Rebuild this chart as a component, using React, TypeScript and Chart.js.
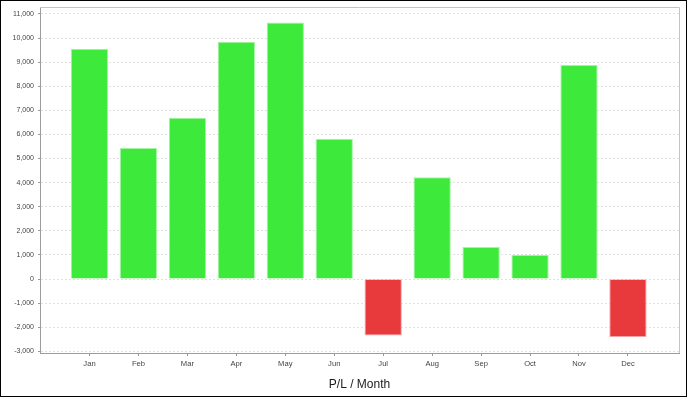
import React, { useEffect, useRef } from "react";
import { Chart, registerables } from "chart.js";

Chart.register(...registerables);

const months = ["Jan", "Feb", "Mar", "Apr", "May", "Jun", "Jul", "Aug", "Sep", "Oct", "Nov", "Dec"];
const profitLoss = [9555, 5440, 6690, 9845, 10650, 5820, -2340, 4225, 1330, 1000, 8880, -2410];
const yTicks = [-3000, -2000, -1000, 0, 1000, 2000, 3000, 4000, 5000, 6000, 7000, 8000, 9000, 10000, 11000];
const axisTitle = "P/L / Month";

const GREEN = "#3dea3b";
const GREEN_EDGE = "#a6f3a4";
const RED = "#e8393d";
const RED_EDGE = "#f2a5a7";

const frame = {
  id: "frame",
  afterDraw(chart: any) {
    const { ctx, chartArea: a } = chart;
    ctx.save();
    ctx.strokeStyle = "#c4c4c4";
    ctx.lineWidth = 1;
    ctx.beginPath();
    ctx.moveTo(a.left, a.top + 0.5);
    ctx.lineTo(a.right + 0.5, a.top + 0.5);
    ctx.lineTo(a.right + 0.5, a.bottom);
    ctx.stroke();
    ctx.restore();
  },
};

export default function App() {
  const ref = useRef<HTMLCanvasElement>(null);
  useEffect(() => {
    document.body.style.margin = "0";
    const data = profitLoss.map((v, i) => ({ x: i, y: v }));
    const chart = new Chart(ref.current!, {
      type: "bar",
      data: {
        datasets: [
          {
            data,
            backgroundColor: profitLoss.map((v) => (v >= 0 ? GREEN : RED)),
            borderColor: profitLoss.map((v) => (v >= 0 ? GREEN_EDGE : RED_EDGE)),
            borderWidth: 1,
            borderSkipped: "start",
            barPercentage: 0.762,
            categoryPercentage: 1,
          },
        ],
      },
      options: {
        responsive: false,
        animation: false,
        layout: { padding: { left: 0, top: 6, right: 7, bottom: 0 } },
        plugins: { legend: { display: false }, tooltip: { enabled: false } },
        scales: {
          x: {
            type: "linear",
            offset: false,
            min: -1.011,
            max: 12.043,
            afterBuildTicks: (scale: any) => {
              scale.ticks = months.map((_, i) => ({ value: i }));
            },
            afterFit: (scale: any) => {
              scale.height = 43;
              scale.paddingLeft = 0;
              scale.paddingRight = 0;
            },
            grid: { offset: false, drawOnChartArea: false, drawTicks: true, tickLength: 3, tickColor: "#999" },
            border: { display: true, color: "#9c9c9c" },
            ticks: {
              autoSkip: false,
              maxRotation: 0,
              padding: 3,
              color: "#444",
              font: { family: "'Liberation Sans', Arial, sans-serif", size: 7.6 },
              callback: (v: any) => months[v] ?? "",
            },
            title: {
              display: true,
              text: axisTitle,
              color: "#1a1a1a",
              font: { family: "'Liberation Sans', Arial, sans-serif", size: 12 },
              padding: { top: 0, bottom: 4 },
            },
          },
          y: {
            min: -3070,
            max: 11290,
            afterBuildTicks: (scale: any) => {
              scale.ticks = yTicks.map((v) => ({ value: v }));
            },
            afterFit: (scale: any) => {
              scale.width = 39;
              scale.paddingTop = 0;
              scale.paddingBottom = 0;
            },
            grid: {
              color: "#e0e0e0",
              lineWidth: 1,
              tickLength: 2,
              tickColor: "#999",
              drawTicks: true,
              tickBorderDash: [],
            },
            border: { display: true, color: "#9c9c9c", dash: [2, 2], dashOffset: 0 },
            ticks: {
              padding: 4,
              color: "#444",
              font: { family: "'Liberation Sans', Arial, sans-serif", size: 7 },
              callback: (v: any) => Number(v).toLocaleString("en-US"),
            },
          },
        },
      },
      plugins: [frame],
    } as any);
    return () => chart.destroy();
  }, []);
  return (
    <div
      style={{
        width: 687,
        height: 397,
        border: "1px solid #000",
        boxSizing: "border-box",
        background: "#fff",
      }}
    >
      <canvas ref={ref} width={685} height={395} style={{ display: "block" }} />
    </div>
  );
}
